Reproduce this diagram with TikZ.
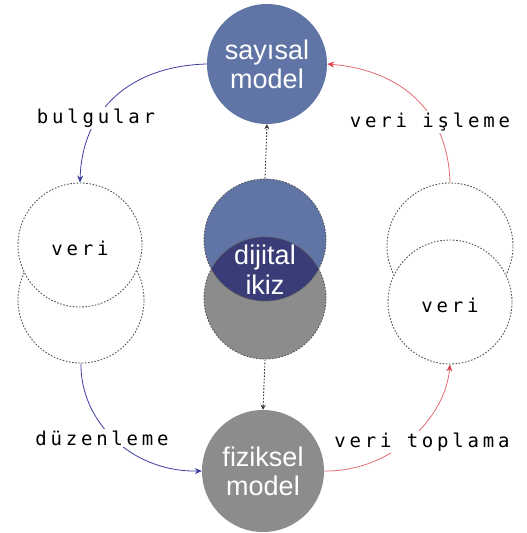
\documentclass[tikz,border=0pt]{standalone}
\usepackage{fontspec}
\setmainfont{Liberation Sans}
\newfontfamily\labelfont[LetterSpace=20]{DejaVu Sans Mono}
\usetikzlibrary{arrows.meta}
\definecolor{cblue}{RGB}{96,116,166}
\definecolor{cgrey}{RGB}{140,140,140}
\definecolor{cnavy}{RGB}{58,60,120}
\definecolor{abl}{RGB}{60,60,160}
\definecolor{ared}{RGB}{220,70,80}
\definecolor{dotc}{RGB}{85,85,85}
\tikzset{
  big/.style={circle, inner sep=0pt, minimum size=#1, text=white, align=center,
    font=\fontsize{27}{29}\selectfont},
  dotcirc/.style={circle, inner sep=0pt, minimum size=#1, draw=dotc, line width=0.9pt,
    dash pattern=on 1.6pt off 1.6pt, fill=white},
  lab/.style={fill=white, inner sep=2pt, font=\labelfont\fontsize{19}{21}\selectfont, text=black},
  bluearr/.style={draw=abl, line width=0.8pt, -{Stealth[length=7pt,width=6pt]}},
  redarr/.style={draw=ared!80, line width=0.8pt, -{Stealth[length=7pt,width=6pt,color=ared]}},
  dotarr/.style={draw=black!80, line width=0.9pt, dash pattern=on 1.6pt off 1.6pt,
    -{Stealth[length=5pt,width=5pt]}}
}
\begin{document}
\begin{tikzpicture}[x=1pt,y=-1pt]
\useasboundingbox (0,0) rectangle (527,533);
% top and bottom
\node[big=120pt, fill=cblue] (say) at (267,64) {sayısal\\model};
\node[big=122pt, fill=cgrey] (fiz) at (263,471) {fiziksel\\model};
% middle twin
\fill[cblue] (265,240) circle (61);
\fill[cgrey] (265,298) circle (61);
\begin{scope}
  \clip (265,240) circle (61);
  \fill[cnavy] (265,298) circle (61);
\end{scope}
\node[circle, inner sep=0pt, minimum size=122pt, draw=dotc, line width=0.9pt, dash pattern=on 1.6pt off 1.6pt] (tb) at (265,240) {};
\node[circle, inner sep=0pt, minimum size=122pt, draw=dotc, line width=0.9pt, dash pattern=on 1.6pt off 1.6pt] (tg) at (265,298) {};
\node[text=white, align=center, font=\fontsize{27}{30}\selectfont] (dik) at (265,270) {dijital\\ikiz};
% left data circles
\node[dotcirc=126pt] (l2) at (81,300) {};
\node[dotcirc=124pt] (l1) at (80,245) {};
\node[lab] (lv) at (80,248) {veri};
% right data circles
\node[dotcirc=126pt] (r1) at (450,246) {};
\node[dotcirc=124pt] (r2) at (450,302) {};
\node[lab] (rv) at (450,305) {veri};
% dotted arrows
\draw[dotarr] (tb.north) -- (say.south);
\draw[dotarr] (tg.south) -- (fiz.north);
% curved connectors
\draw[bluearr] (say.west) .. controls (130,66) and (82,110) .. (l1.north);
\draw[redarr] (r1.north) .. controls (448,110) and (400,70) .. (say.east);
\draw[bluearr] (l2.south) .. controls (80,420) and (130,472) .. (fiz.west);
\draw[redarr] (fiz.east) .. controls (390,472) and (445,420) .. (r2.south);
% labels
\node[lab] (bul) at (96,118) {bulgular};
\node[lab] (vis) at (430,122) {veri işleme};
\node[lab] (duz) at (102,438) {düzenleme};
\node[lab] (vto) at (422,442) {veri toplama};
\end{tikzpicture}
\end{document}
